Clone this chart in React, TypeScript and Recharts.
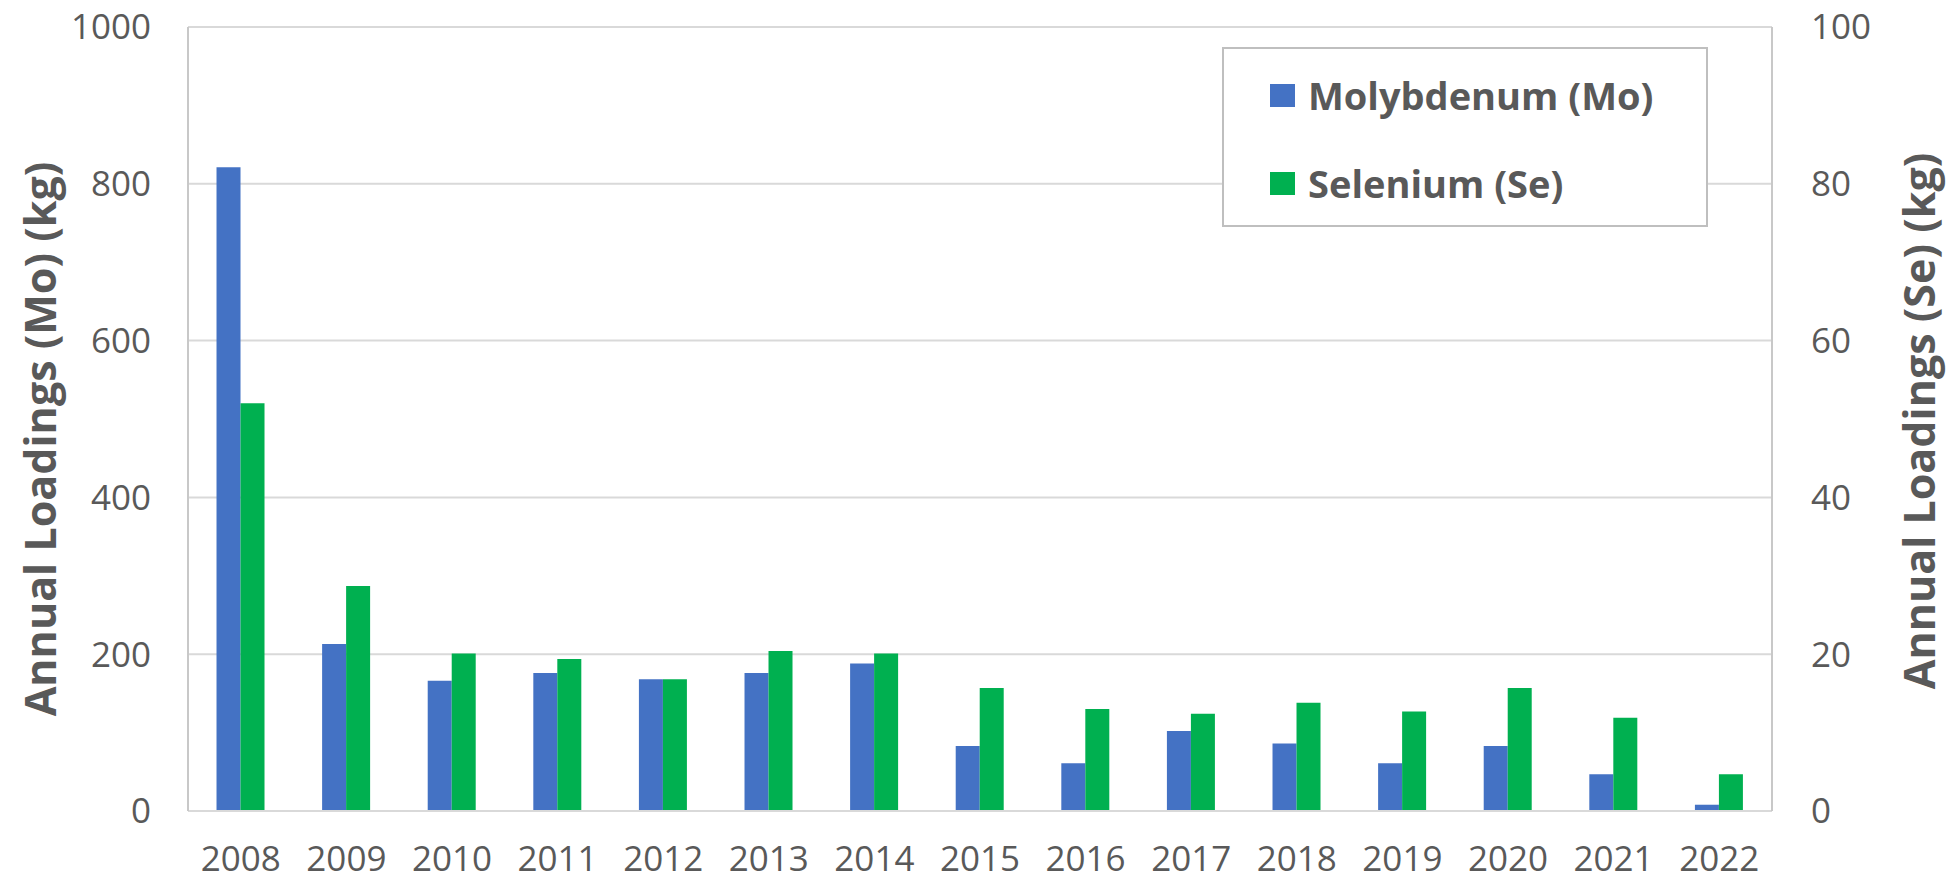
import { BarChart, Bar, XAxis, YAxis, CartesianGrid, Legend } from 'recharts';

const years = ['2008', '2009', '2010', '2011', '2012', '2013', '2014', '2015', '2016', '2017', '2018', '2019', '2020', '2021', '2022'];
const molybdenum = [821, 213, 166, 176, 168, 176, 188, 83, 61, 102, 86, 61, 83, 47, 8];
const selenium = [52, 28.7, 20.1, 19.4, 16.8, 20.4, 20.1, 15.7, 13.0, 12.4, 13.8, 12.7, 15.7, 11.9, 4.7];
const moTicks = [0, 200, 400, 600, 800, 1000];
const seTicks = [0, 20, 40, 60, 80, 100];

const chartData = years.map((year, i) => ({
  year,
  mo: molybdenum[i],
  se: selenium[i]
}));

const FONT = '"Open Sans", sans-serif';
const GREY = '#595959';

function AxisTitle({ cx, cy, text }: { cx: number; cy: number; text: string }) {
  return (
    <text
      x={cx}
      y={cy}
      transform={`rotate(-90, ${cx}, ${cy})`}
      textAnchor="middle"
      dominantBaseline="central"
      fontFamily={FONT}
      fontWeight={700}
      fontSize={43}
      fill={GREY}
    >
      {text}
    </text>
  );
}

function LegendBox({ payload }: any) {
  return (
    <div
      style={{
        width: 486,
        height: 180,
        boxSizing: 'border-box',
        border: '2px solid #bfbfbf',
        background: '#fff',
        paddingLeft: 46,
        paddingTop: 24
      }}
    >
      {(payload || []).map((entry: any, i: number) => (
        <div key={i} style={{ display: 'flex', alignItems: 'center', height: 44, marginBottom: 44 }}>
          <span style={{ width: 25, height: 23, background: entry.color, display: 'inline-block', marginRight: 13 }} />
          <span style={{ fontFamily: FONT, fontWeight: 700, fontSize: 38, color: GREY, lineHeight: '44px' }}>
            {entry.value}
          </span>
        </div>
      ))}
    </div>
  );
}

export default function App() {
  return (
    <div style={{ position: 'absolute', left: 0, top: 0, width: 1952, height: 880, background: '#fff' }}>
      <BarChart
        width={1952}
        height={880}
        data={chartData}
        margin={{ top: 27, right: 80, left: 88, bottom: 9 }}
        barCategoryGap="27%"
        barGap={0}
      >
        <CartesianGrid vertical={false} stroke="#d9d9d9" strokeWidth={2} yAxisId="mo" />
        <XAxis
          dataKey="year"
          height={60}
          tickSize={0}
          tickMargin={35}
          axisLine={{ stroke: '#d9d9d9', strokeWidth: 2 }}
          tick={{ fontFamily: FONT, fontSize: 35, fill: GREY }}
          interval={0}
        />
        <YAxis
          yAxisId="mo"
          orientation="left"
          width={100}
          domain={[0, 1000]}
          ticks={moTicks}
          tickSize={0}
          tickMargin={37}
          axisLine={{ stroke: '#c8c8c8', strokeWidth: 2 }}
          tick={{ fontFamily: FONT, fontSize: 35, fill: GREY }}
          label={<AxisTitle cx={39} cy={439} text="Annual Loadings (Mo) (kg)" />}
        />
        <YAxis
          yAxisId="se"
          orientation="right"
          width={100}
          domain={[0, 100]}
          ticks={seTicks}
          tickSize={0}
          tickMargin={39}
          axisLine={{ stroke: '#c8c8c8', strokeWidth: 2 }}
          tick={{ fontFamily: FONT, fontSize: 35, fill: GREY, textAnchor: 'start' }}
          label={<AxisTitle cx={1918} cy={421} text="Annual Loadings (Se) (kg)" />}
        />
        <Legend
          layout="horizontal"
          verticalAlign="middle"
          align="center"
          content={<LegendBox />}
          wrapperStyle={{ left: 1222, top: 47, width: 486, height: 180 }}
        />
        <Bar yAxisId="mo" dataKey="mo" name="Molybdenum (Mo)" fill="#4472C4" isAnimationActive={false} />
        <Bar yAxisId="se" dataKey="se" name="Selenium (Se)" fill="#00B050" isAnimationActive={false} />
      </BarChart>
    </div>
  );
}
